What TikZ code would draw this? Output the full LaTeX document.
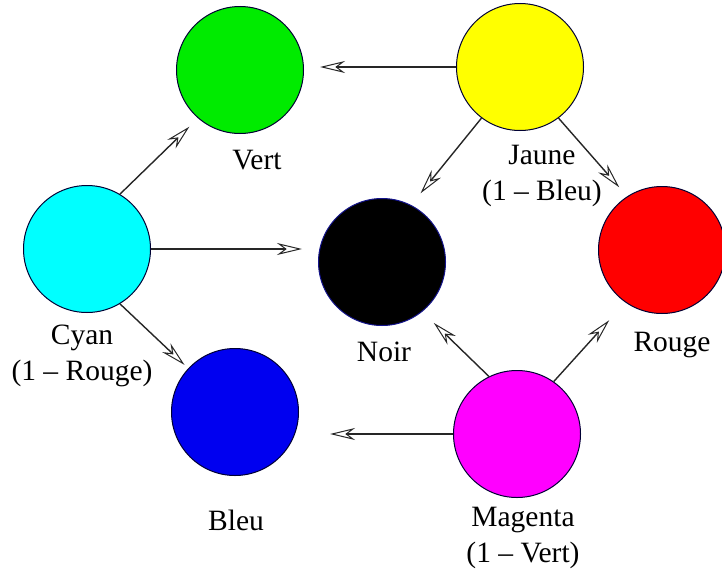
\documentclass[tikz,border=0pt]{standalone}
\usepackage{fontspec}
\setmainfont{Liberation Serif}
\usetikzlibrary{arrows.meta,calc}
\tikzset{
  disc/.style={circle, draw=black!80!blue, line width=1pt, minimum size=#1, inner sep=0pt},
  disc/.default=127pt,
  lbl/.style={align=center, font=\fontsize{29.5}{36}\selectfont, inner sep=0pt},
  conn/.style={draw=black!85, line width=1.4pt, -{Stealth[open, length=25pt, width=12pt, inset=8pt, line width=1pt]}}
}
\begin{document}
\begin{tikzpicture}[x=1pt,y=-1pt]
\useasboundingbox (0,0) rectangle (722,570);
\node[disc, fill={rgb,255:red,0;green,235;blue,0}] (vert) at (240,70) {};
\node[disc, fill={rgb,255:red,255;green,255;blue,0}] (jaune) at (520,67) {};
\node[disc, fill={rgb,255:red,0;green,255;blue,255}] (cyan) at (87,249) {};
\node[disc, fill=black, draw={rgb,255:red,20;green,20;blue,140}] (noir) at (382,262) {};
\node[disc, fill={rgb,255:red,255;green,0;blue,0}] (rouge) at (662,250) {};
\node[disc, fill={rgb,255:red,0;green,0;blue,240}] (bleu) at (235,412) {};
\node[disc, fill={rgb,255:red,255;green,0;blue,255}] (magenta) at (517,434) {};

\node[lbl] (tvert) at (257,160) {Vert};
\node[lbl] (tjaune) at (542,176) {Jaune\\(1 -- Bleu)};
\node[lbl] (tcyan) at (82,356) {Cyan\\(1 -- Rouge)};
\node[lbl] (tnoir) at (384,352) {Noir};
\node[lbl] (trouge) at (672,345) {Rouge};
\node[lbl] (tbleu) at (236,520) {Bleu};
\node[lbl] (tmagenta) at (523,538) {Magenta\\(1 -- Vert)};

\draw[conn, shorten >=16pt] (jaune.west) -- (jaune.west -| vert.east);
\draw[conn, shorten >=15pt] (jaune.233) -- (noir.63);
\draw[conn, shorten >=12pt] (jaune.307) -- (rouge.123);
\draw[conn, shorten >=12pt] (cyan.59) -- (vert.229);
\draw[conn, shorten >=16pt] (cyan.east) -- (cyan.east -| noir.west);
\draw[conn, shorten >=5pt] (cyan.301) -- (bleu.137);
\draw[conn, shorten >=16pt] (magenta.116) -- (noir.309);
\draw[conn, shorten >=24pt] (magenta.55) -- (rouge.235);
\draw[conn, shorten >=31pt] (magenta.west) -- (magenta.west -| bleu.east);
\end{tikzpicture}
\end{document}
